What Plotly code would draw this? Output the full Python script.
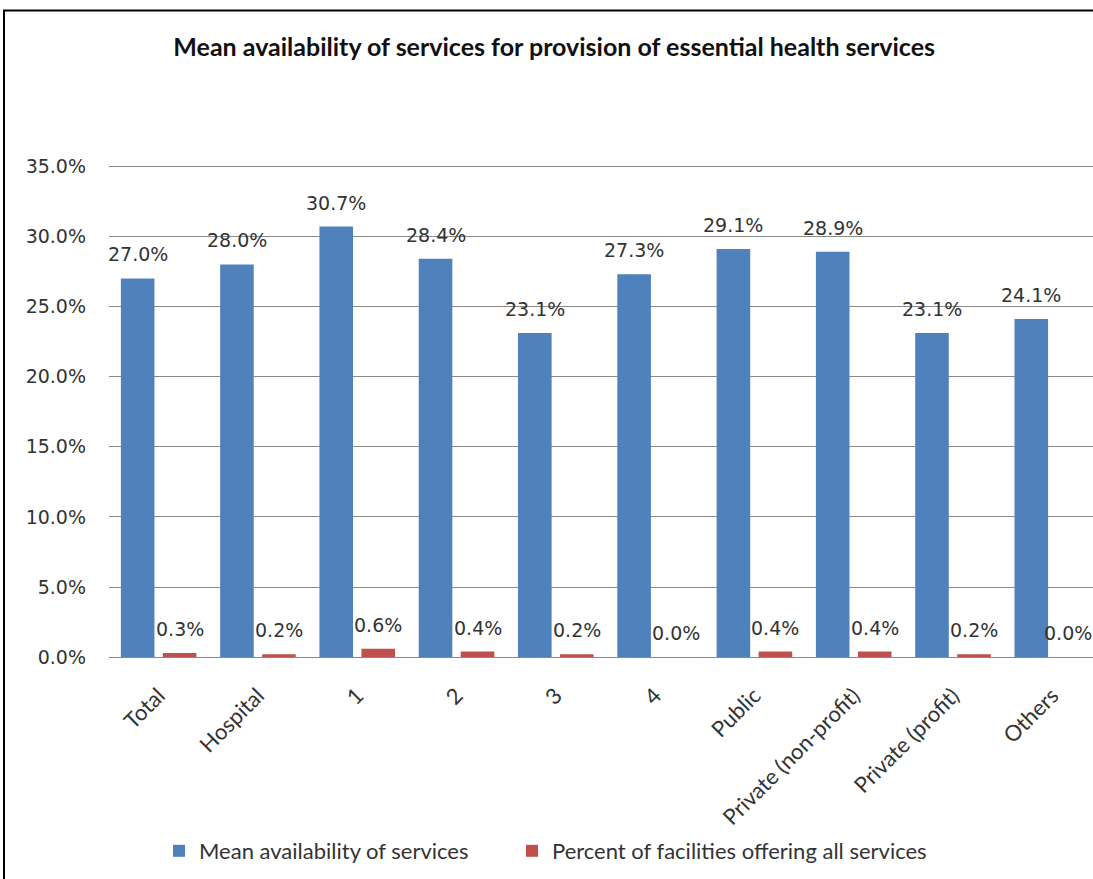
import plotly.graph_objects as go

categories = ["Total", "Hospital", "1", "2", "3", "4", "Public",
              "Private (non-profit)", "Private (profit)", "Others"]
mean_availability = [27.0, 28.0, 30.7, 28.4, 23.1, 27.3, 29.1, 28.9, 23.1, 24.1]
pct_all_services = [0.3, 0.2, 0.6, 0.4, 0.2, 0.0, 0.4, 0.4, 0.2, 0.0]
series_names = ["Mean availability of services", "Percent of facilities offering all services"]
y_ticks = [0, 5, 10, 15, 20, 25, 30, 35]

BLUE = "#4F81BD"
RED = "#C0504D"
GRID = "#8A8A8A"
TXT = "#333333"
LABEL_FONT = dict(family="DejaVu Sans", size=19, color=TXT)
CAL_FONT = "Lato"

fig = go.Figure()
fig.add_trace(go.Bar(x=categories, y=mean_availability, name=series_names[0],
                     marker=dict(color=BLUE, line=dict(width=0)), legend="legend"))
fig.add_trace(go.Bar(x=categories, y=pct_all_services, name=series_names[1],
                     marker=dict(color=RED, line=dict(width=0)), legend="legend2"))

bargap = 0.154
slot = (1 - bargap) / 2
annotations = []
n = len(categories)
for vals, sign in ((mean_availability, -1), (pct_all_services, 1)):
    for i, v in enumerate(vals):
        annotations.append(dict(x=i + sign * slot / 2, y=v, xref="x", yref="y",
                                text=f"{v:.1f}%", showarrow=False,
                                xshift=-5 if (sign > 0 and i == n - 1) else 0,
                                yanchor="bottom", yshift=11, font=LABEL_FONT))

PX_PER_UNIT = 493 / 35
Y_TOP = 35.3
top_margin = round(659 - Y_TOP * PX_PER_UNIT)
plot_h = 659 - top_margin

legend_common = dict(orientation="h", xref="container", yref="container",
                     xanchor="left", y=1 - 851 / 879, yanchor="middle",
                     font=dict(family=CAL_FONT, size=22, color=TXT),
                     itemwidth=30, bgcolor="rgba(0,0,0,0)")

fig.update_layout(
    width=1093, height=879,
    margin=dict(l=109, r=0, t=top_margin, b=220),
    paper_bgcolor="white", plot_bgcolor="white",
    barmode="group", bargap=bargap, bargroupgap=0.2,
    title=dict(text="<b>Mean availability of services for provision of essential health services</b>",
               x=0.507, xref="container", xanchor="center",
               y=1 - 47 / 879, yref="container", yanchor="middle",
               font=dict(family=CAL_FONT, size=25, color="#111111")),
    xaxis=dict(type="category", range=[-0.5, 9.41], tickangle=-45,
               showline=True, linecolor=GRID, linewidth=1, ticks="",
               showgrid=False, ticklabelstandoff=16,
               tickfont=dict(family=CAL_FONT, size=22, color=TXT)),
    yaxis=dict(range=[0, Y_TOP], tickvals=y_ticks,
               ticktext=[f"{t:.1f}%" for t in y_ticks],
               showgrid=True, gridcolor=GRID, gridwidth=1,
               zeroline=False, showline=False, ticks="",
               ticklabelstandoff=22,
               tickfont=LABEL_FONT),
    legend=dict(legend_common, x=159 / 1093),
    legend2=dict(legend_common, x=512 / 1093),
    annotations=annotations,
    shapes=[dict(type="rect", xref="paper", yref="paper",
                 x0=(4 - 109) / 984, x1=1.2, y0=-1, y1=(659 - 10) / plot_h,
                 line=dict(color="black", width=2), layer="below")],
    showlegend=True,
)

fig.write_html("out.html", config={"displayModeBar": False},
               post_script="document.body.style.margin='0';document.body.style.overflow='hidden';")
